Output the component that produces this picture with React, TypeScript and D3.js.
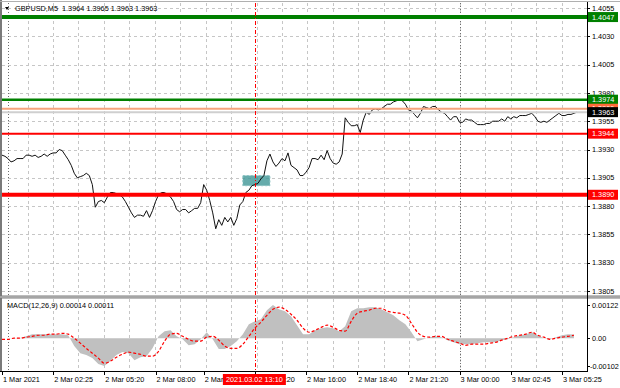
import React, { useEffect, useRef } from "react";
import * as d3 from "d3";

const chartTitle = "GBPUSD,M5  1.3964 1.3965 1.3963 1.3963";
const macdTitle = "MACD(12,26,9) 0.00014 0.00011";

// close prices, one per step across the chart
const closes = [
  1.3925, 1.3924, 1.3922, 1.3919, 1.392, 1.3922, 1.3922, 1.3922, 1.3925, 1.3925, 1.3924, 1.3925,
  1.3923, 1.3924, 1.3926, 1.3924, 1.3926, 1.3927, 1.3927, 1.393, 1.3929, 1.3925, 1.3921, 1.3916,
  1.3909, 1.3905, 1.3906, 1.3907, 1.3909, 1.3907, 1.3899, 1.3879, 1.3884, 1.3885, 1.3883, 1.3888,
  1.3892, 1.3892, 1.3891, 1.389, 1.3888, 1.3884, 1.3879, 1.3874, 1.387, 1.3872, 1.3872, 1.3871,
  1.3876, 1.387, 1.3876, 1.3884, 1.389, 1.3892, 1.3892, 1.389, 1.3888, 1.3884, 1.3877, 1.3875,
  1.3877, 1.3877, 1.3874, 1.3876, 1.3878, 1.3878, 1.3883, 1.3899, 1.3894, 1.3885, 1.3874, 1.386,
  1.3868, 1.3863, 1.387, 1.3866, 1.387, 1.3863, 1.3869, 1.3881, 1.3884, 1.3892, 1.3894, 1.3898,
  1.3899, 1.39, 1.3904, 1.3907, 1.392, 1.3926, 1.3919, 1.3915, 1.3918, 1.3922, 1.392, 1.3927,
  1.3916, 1.3914, 1.3912, 1.3907, 1.3907, 1.391, 1.3914, 1.3922, 1.3922, 1.3921, 1.3925, 1.3921,
  1.3929, 1.3922, 1.3918, 1.3917, 1.3919, 1.3926, 1.3958, 1.3954, 1.3951, 1.3951, 1.3952, 1.3945,
  1.3956, 1.3963, 1.3961, 1.3965, 1.3966, 1.3965, 1.3966, 1.3968, 1.397, 1.397, 1.3972, 1.3973,
  1.3974, 1.3973, 1.397, 1.3965, 1.3964, 1.3961, 1.3958, 1.3962, 1.3968, 1.3967, 1.3966, 1.3968,
  1.3968, 1.3965, 1.3963, 1.3962, 1.3959, 1.3956, 1.3959, 1.3959, 1.3954, 1.3954, 1.3957, 1.3956,
  1.3956, 1.3954, 1.3952, 1.3952, 1.3952, 1.3953, 1.3953, 1.3955, 1.3955, 1.3955, 1.3957, 1.3955,
  1.3959, 1.3957, 1.3959, 1.3958, 1.396, 1.396, 1.396, 1.3961, 1.3962, 1.3959, 1.3955, 1.3954,
  1.3955, 1.3954, 1.3956, 1.3958, 1.396, 1.3962, 1.396, 1.396, 1.3961, 1.3961, 1.3962, 1.3963,
];

// MACD main (histogram) and signal, one value every second step
const macdMain = [
  0, 0, 0.00001, 0.00001, 0.00007, 0.00015, 0.00015, 0.00015, 0.00015, 0.00015, 0.00015, 0.00011,
  -0.00029, -0.00055, -0.00062, -0.00073, -0.00095, -0.00102, -0.00084, -0.00062, -0.00051, -0.00055, -0.00081, -0.0007,
  -0.00066, -0.00037, 0.00007, 0.00026, 0.00029, 0.00007, -0.00004, -0.00026, -0.00022, -0.00004, 0.00022, -0.00004,
  -0.0004, -0.0004, -0.00029, -0.00011, 0.00015, 0.00051, 0.00062, 0.0007, 0.00103, 0.00122, 0.00106, 0.00099,
  0.00081, 0.00048, 0.00015, 0.00015, 0.00029, 0.00037, 0.0004, 0.00037, 0.00026, 0.00044, 0.00099, 0.0011,
  0.0011, 0.00114, 0.00114, 0.00106, 0.00095, 0.00084, 0.00066, 0.00051, 0.00022, -0.00011, -0.00004, 0.00004,
  0.00007, 0.00004, -0.00007, -0.00015, -0.00022, -0.00022, -0.00022, -0.00018, -0.00015, -0.00015, -0.00015, -0.00007,
  -0.00004, 0.00004, 0.00011, 0.00015, 0.00022, 0.00011, 0, -0.00004, 0.00004, 0.00011, 0.00015, 0.00014,
];
const macdSignal = [
  -0.00004, -0.00004, 0, 0, 0.00004, 0.00007, 0.00011, 0.00011, 0.00015, 0.00015, 0.00018, 0.00015,
  0, -0.00018, -0.00037, -0.00055, -0.00073, -0.00092, -0.00084, -0.0007, -0.00059, -0.00051, -0.00055, -0.00059,
  -0.00066, -0.00066, -0.00048, -0.00011, 0.00015, 0.00018, 0.00007, -0.00004, -0.00011, -0.00011, 0.00004, 0.00007,
  -0.00007, -0.00029, -0.00037, -0.00037, -0.00022, 0.00007, 0.00037, 0.00059, 0.00084, 0.00106, 0.00114, 0.00106,
  0.00088, 0.00066, 0.00037, 0.00022, 0.00029, 0.0004, 0.00048, 0.0004, 0.00029, 0.00026, 0.00062, 0.00092,
  0.00099, 0.00103, 0.0011, 0.0011, 0.00099, 0.00095, 0.00092, 0.00084, 0.00055, 0.00022, 0.00007, 0.00004,
  0.00007, 0.00007, -0.00004, -0.00011, -0.00018, -0.00026, -0.00022, -0.00022, -0.00022, -0.00018, -0.00015, -0.00007,
  0, 0.00007, 0.00011, 0.00015, 0.00022, 0.00011, 0.00004, -0.00004, 0, 0.00004, 0.00007, 0.00011,
];

const priceTicks = [1.4055, 1.403, 1.4005, 1.398, 1.3955, 1.393, 1.3905, 1.388, 1.3855, 1.383, 1.3805];
const macdTicks = [0.00122, 0, -0.00102];
const macdTickLabels = ["0.00122", "0.00", "-0.00102"];

const timeTickIdx = [0, 17, 34, 51, 67, 84, 101, 118, 135, 152, 169, 186];
const timeTickLabels = [
  "1 Mar 2021", "2 Mar 02:25", "2 Mar 05:20", "2 Mar 08:00", "2 Mar 10:40", "2 Mar 13:20",
  "2 Mar 16:00", "2 Mar 18:40", "2 Mar 21:20", "3 Mar 00:00", "3 Mar 02:45", "3 Mar 05:25",
];
const daySeparatorIdx = [2, 152];

const cursorIdx = 84;
const cursorLabel = "2021.03.02 13:10";

// horizontal levels drawn on the chart
const levelPrices = [1.4047, 1.3974, 1.3966, 1.3963, 1.3944, 1.389];
const zoneIdx = [80, 89];
const zonePrices = [1.3898, 1.3907];

export default function App() {
  const svgRef = useRef<SVGSVGElement>(null);

  useEffect(() => {
    const W = 620;
    const H = 388;
    const axisX = 587;
    const mainTop = 3;
    const mainBot = 295;
    const macdTop = 299;
    const macdBot = 371;
    const font = "'Liberation Sans', Arial, sans-serif";

    const x = d3.scaleLinear().domain([0, closes.length - 1]).range([2, 577]);
    const y = d3.scaleLinear().domain([1.3805, 1.4055]).range([291, 8]);
    const ym = d3.scaleLinear().domain([-0.00102, 0.00122]).range([366, 305]);

    const svg = d3.select(svgRef.current).attr("width", W).attr("height", H);
    svg.selectAll("*").remove();

    svg.append("rect").attr("width", W).attr("height", H).attr("fill", "#ffffff");

    // grid
    const gridIdx = d3.range(timeTickIdx[1] - 8.5, closes.length + 1, 8.45);
    const grid = svg.append("g").attr("stroke", "#c6c6c6").attr("stroke-dasharray", "3,3");
    [
      [mainTop, mainBot],
      [macdTop, macdBot],
    ].forEach(([t, b]) => {
      grid
        .selectAll(null)
        .data(gridIdx)
        .join("line")
        .attr("x1", (d) => Math.round(x(d)) + 0.5)
        .attr("x2", (d) => Math.round(x(d)) + 0.5)
        .attr("y1", t)
        .attr("y2", b);
    });
    grid
      .selectAll(null)
      .data(priceTicks)
      .join("line")
      .attr("x1", 2)
      .attr("x2", axisX)
      .attr("y1", (d) => Math.round(y(d)) + 0.5)
      .attr("y2", (d) => Math.round(y(d)) + 0.5);

    // day separators
    svg
      .append("g")
      .attr("stroke", "#6e6e6e")
      .attr("stroke-dasharray", "1,2")
      .selectAll("line")
      .data(daySeparatorIdx)
      .join("line")
      .attr("x1", (d) => Math.round(x(d)) + 0.5)
      .attr("x2", (d) => Math.round(x(d)) + 0.5)
      .attr("y1", mainTop)
      .attr("y2", macdBot);

    // MACD histogram (filled) + signal
    const histArea = d3
      .area<number>()
      .x((d, i) => x(i * 2))
      .y0(ym(0))
      .y1((d) => ym(d));
    svg.append("path").attr("d", histArea(macdMain)).attr("fill", "#c0c0c0");

    const sigLine = d3
      .line<number>()
      .x((d, i) => x(i * 2))
      .y((d) => ym(d))
      .curve(d3.curveMonotoneX);
    svg
      .append("path")
      .attr("d", sigLine(macdSignal))
      .attr("fill", "none")
      .attr("stroke", "#ff0000")
      .attr("stroke-width", 1.2)
      .attr("stroke-dasharray", "3,2");

    // trade zone box
    svg
      .append("rect")
      .attr("x", x(zoneIdx[0]))
      .attr("y", y(zonePrices[1]))
      .attr("width", x(zoneIdx[1]) - x(zoneIdx[0]))
      .attr("height", y(zonePrices[0]) - y(zonePrices[1]))
      .attr("fill", "#3f9696")
      .attr("fill-opacity", 0.8)
      .attr("stroke", "#8cc4c4")
      .attr("stroke-dasharray", "2,2");

    // price line
    const priceLine = d3
      .line<number>()
      .x((d, i) => x(i))
      .y((d) => y(d));
    svg
      .append("path")
      .attr("d", priceLine(closes))
      .attr("fill", "none")
      .attr("stroke", "#111")
      .attr("stroke-width", 1);

    // horizontal levels
    const levelStyle = [
      { color: "#008000", width: 4, box: "#008000" },
      { color: "#008000", width: 2.5, box: "#008000" },
      { color: "#f6a47c", width: 2, box: "#ff6a3a" },
      { color: "#cfcfcf", width: 2, box: "#000000" },
      { color: "#ff0000", width: 2, box: "#ff0000" },
      { color: "#ff0000", width: 4, box: "#ff0000" },
    ];
    svg
      .append("g")
      .selectAll("line")
      .data(levelPrices)
      .join("line")
      .attr("x1", 2)
      .attr("x2", axisX)
      .attr("y1", (d) => y(d))
      .attr("y2", (d) => y(d))
      .attr("stroke", (d, i) => levelStyle[i].color)
      .attr("stroke-width", (d, i) => levelStyle[i].width);

    // cursor line
    svg
      .append("line")
      .attr("x1", Math.round(x(cursorIdx)) + 0.5)
      .attr("x2", Math.round(x(cursorIdx)) + 0.5)
      .attr("y1", mainTop)
      .attr("y2", macdBot)
      .attr("stroke", "#ff0000")
      .attr("stroke-dasharray", "4,2,1,2");

    // frame
    svg.append("rect").attr("x", 0).attr("y", 0).attr("width", 2).attr("height", macdBot).attr("fill", "#7a7a7a");
    svg.append("line").attr("x1", 0).attr("x2", W).attr("y1", 1.5).attr("y2", 1.5).attr("stroke", "#b0b0b0");
    svg.append("rect").attr("x", 0).attr("y", mainBot + 0.5).attr("width", W).attr("height", 3).attr("fill", "#7a7a7a");
    svg.append("rect").attr("x", 0).attr("y", mainBot + 1.5).attr("width", W).attr("height", 1).attr("fill", "#d0d0d0");
    svg.append("line").attr("x1", 0).attr("x2", axisX).attr("y1", macdBot + 0.5).attr("y2", macdBot + 0.5).attr("stroke", "#000");
    svg.append("line").attr("x1", axisX + 0.5).attr("x2", axisX + 0.5).attr("y1", 2).attr("y2", macdBot + 1).attr("stroke", "#000");

    // right price axis
    const rAxis = svg.append("g").attr("font-family", font).attr("font-size", 7.3).attr("fill", "#000");
    rAxis
      .selectAll("line")
      .data(priceTicks)
      .join("line")
      .attr("x1", axisX)
      .attr("x2", axisX + 3)
      .attr("y1", (d) => Math.round(y(d)) + 0.5)
      .attr("y2", (d) => Math.round(y(d)) + 0.5)
      .attr("stroke", "#000");
    rAxis
      .selectAll("text")
      .data(priceTicks)
      .join("text")
      .attr("x", axisX + 5)
      .attr("y", (d) => y(d) + 2.6)
      .text((d) => d3.format(".4f")(d));

    // macd axis
    const mAxis = svg.append("g").attr("font-family", font).attr("font-size", 7.3).attr("fill", "#000");
    mAxis
      .selectAll("line")
      .data(macdTicks)
      .join("line")
      .attr("x1", axisX)
      .attr("x2", axisX + 3)
      .attr("y1", (d) => Math.round(ym(d)) + 0.5)
      .attr("y2", (d) => Math.round(ym(d)) + 0.5)
      .attr("stroke", "#000");
    mAxis
      .selectAll("text")
      .data(macdTicks)
      .join("text")
      .attr("x", (d) => (d < 0 ? axisX + 3 : axisX + 5))
      .attr("y", (d) => ym(d) + 2.6)
      .text((d, i) => macdTickLabels[i]);

    // level labels
    const lbl = svg.append("g").attr("font-family", font).attr("font-size", 7.3);
    levelPrices.forEach((p, i) => {
      const cy = y(p);
      lbl
        .append("rect")
        .attr("x", axisX + 1)
        .attr("y", cy - 5)
        .attr("width", 30)
        .attr("height", 10)
        .attr("fill", levelStyle[i].box);
      lbl
        .append("text")
        .attr("x", axisX + 5)
        .attr("y", cy + 2.6)
        .attr("fill", "#fff")
        .text(d3.format(".4f")(p));
    });

    // time axis
    const tAxis = svg.append("g").attr("font-family", font).attr("font-size", 7.3).attr("fill", "#000");
    tAxis
      .selectAll("line")
      .data(timeTickIdx)
      .join("line")
      .attr("x1", (d) => Math.round(x(d)) + 0.5)
      .attr("x2", (d) => Math.round(x(d)) + 0.5)
      .attr("y1", macdBot)
      .attr("y2", macdBot + 4)
      .attr("stroke", "#000");
    tAxis
      .selectAll("text")
      .data(timeTickIdx)
      .join("text")
      .attr("x", (d) => x(d) + 1)
      .attr("y", 382)
      .text((d, i) => timeTickLabels[i]);

    const cx = x(cursorIdx);
    tAxis
      .append("rect")
      .attr("x", cx - 32)
      .attr("y", 374)
      .attr("width", 63)
      .attr("height", 11)
      .attr("fill", "#ff0000");
    tAxis
      .append("text")
      .attr("x", cx - 0.5)
      .attr("y", 382)
      .attr("text-anchor", "middle")
      .attr("fill", "#fff")
      .text(cursorLabel);

    // titles
    svg
      .append("path")
      .attr("d", "M5,7 L9,7 L7,10 Z")
      .attr("fill", "#000");
    svg
      .append("text")
      .attr("x", 15)
      .attr("y", 11)
      .attr("font-family", font)
      .attr("font-size", 7.3)
      .attr("fill", "#000")
      .style("white-space", "pre")
      .text(chartTitle);
    svg
      .append("text")
      .attr("x", 7)
      .attr("y", 308)
      .attr("font-family", font)
      .attr("font-size", 7.3)
      .attr("fill", "#000")
      .text(macdTitle);
  }, []);

  return (
    <div style={{ position: "absolute", left: 0, top: 0 }}>
      <svg ref={svgRef} style={{ display: "block" }}></svg>
    </div>
  );
}
